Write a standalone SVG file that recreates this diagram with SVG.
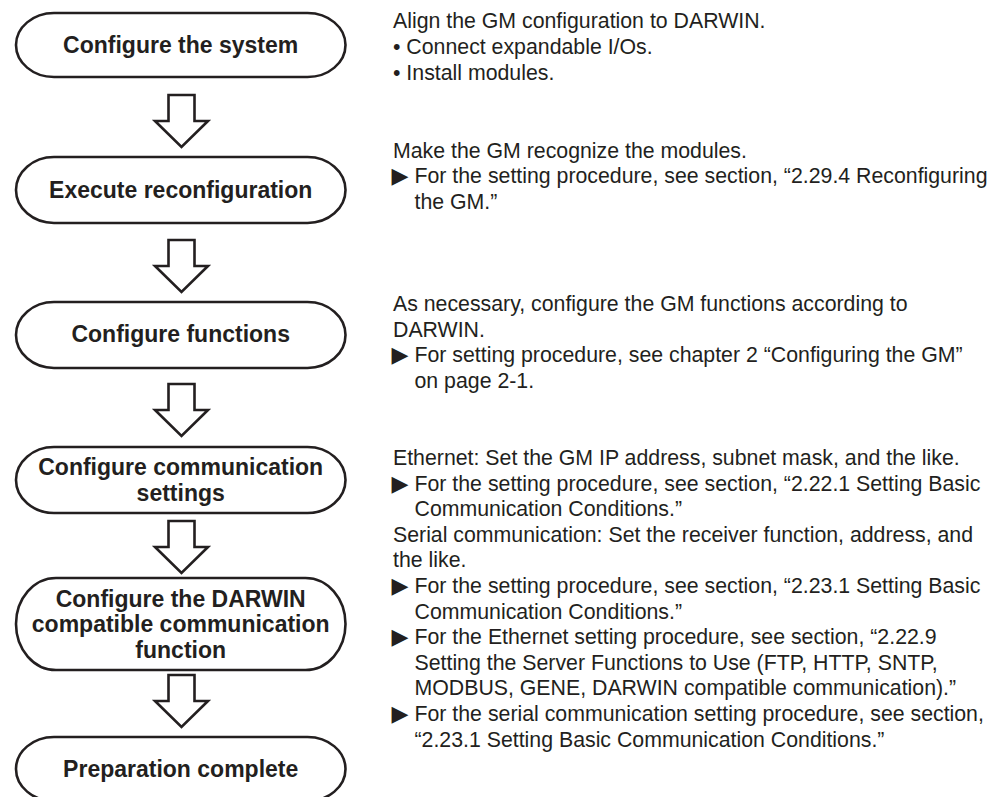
<svg xmlns="http://www.w3.org/2000/svg" width="1001" height="797" viewBox="0 0 1001 797">
<style>
.node{fill:#fff;stroke:#231f20;stroke-width:2.6}
.arrow{fill:#fff;stroke:#231f20;stroke-width:2.6;stroke-linejoin:miter}
.nt{font-family:"Liberation Sans",Arial,sans-serif;font-weight:bold;font-size:23px;fill:#231f20;text-anchor:middle}
.dt{font-family:"Liberation Sans",Arial,sans-serif;font-size:21.3px;fill:#231f20}
.tri{font-family:"DejaVu Sans",sans-serif;font-size:22px}
</style>
<defs>
<path id="blk" d="M-13,0 H13 V26 H26.5 L0,52 L-26.5,26 H-13 Z"/>
</defs>
<rect width="1001" height="797" fill="#fff"/>
<g id="connectors">
<use href="#blk" class="arrow" transform="translate(181.5,95)"/>
<use href="#blk" class="arrow" transform="translate(181.5,240)"/>
<use href="#blk" class="arrow" transform="translate(181.5,384)"/>
<use href="#blk" class="arrow" transform="translate(181.5,521)"/>
<use href="#blk" class="arrow" transform="translate(181.5,675)"/>
</g>
<g id="n1">
<rect class="node" x="16" y="13" width="329.5" height="64" rx="38" ry="32"/>
<text class="nt" x="180.7" y="53.3">Configure the system</text>
</g>
<g id="n2">
<rect class="node" x="16" y="157" width="329.5" height="66" rx="38" ry="33"/>
<text class="nt" x="180.7" y="198.3">Execute reconfiguration</text>
</g>
<g id="n3">
<rect class="node" x="16" y="302" width="329.5" height="66" rx="38" ry="33"/>
<text class="nt" x="180.7" y="342.3">Configure functions</text>
</g>
<g id="n4">
<rect class="node" x="16" y="447" width="329.5" height="66" rx="38" ry="33"/>
<text class="nt" x="180.7" y="475.3">Configure communication</text>
<text class="nt" x="180.7" y="500.8">settings</text>
</g>
<g id="n5">
<rect class="node" x="16" y="578" width="329.5" height="92" rx="40" ry="46"/>
<text class="nt" x="180.7" y="606.8">Configure the DARWIN</text>
<text class="nt" x="180.7" y="632.3">compatible communication</text>
<text class="nt" x="180.7" y="657.8">function</text>
</g>
<g id="n6">
<rect class="node" x="16" y="737" width="329.5" height="64" rx="38" ry="32"/>
<text class="nt" x="180.7" y="777.3">Preparation complete</text>
</g>
<g id="notes" class="dt">
<text x="393" y="28.3">Align the GM configuration to DARWIN.</text>
<text x="393" y="54.3">• Connect expandable I/Os.</text>
<text x="393" y="80.3">• Install modules.</text>

<text x="393" y="157.5">Make the GM recognize the modules.</text>
<text y="183.2"><tspan class="tri" x="391.5">▶</tspan><tspan x="414.5">For the setting procedure, see section, “2.29.4 Reconfiguring</tspan></text>
<text x="414.5" y="209">the GM.”</text>

<text x="393" y="311">As necessary, configure the GM functions according to</text>
<text x="393" y="336.6">DARWIN.</text>
<text y="362.2"><tspan class="tri" x="391.5">▶</tspan><tspan x="414.5">For setting procedure, see chapter 2 “Configuring the GM”</tspan></text>
<text x="414.5" y="387.8">on page 2-1.</text>

<text x="393" y="465">Ethernet: Set the GM IP address, subnet mask, and the like.</text>
<text y="490.6"><tspan class="tri" x="391.5">▶</tspan><tspan x="414.5">For the setting procedure, see section, “2.22.1 Setting Basic</tspan></text>
<text x="414.5" y="516.2">Communication Conditions.”</text>
<text x="393" y="541.8">Serial communication: Set the receiver function, address, and</text>
<text x="393" y="567.4">the like.</text>
<text y="593"><tspan class="tri" x="391.5">▶</tspan><tspan x="414.5">For the setting procedure, see section, “2.23.1 Setting Basic</tspan></text>
<text x="414.5" y="618.6">Communication Conditions.”</text>
<text y="644.2"><tspan class="tri" x="391.5">▶</tspan><tspan x="414.5">For the Ethernet setting procedure, see section, “2.22.9</tspan></text>
<text x="414.5" y="669.8">Setting the Server Functions to Use (FTP, HTTP, SNTP,</text>
<text x="414.5" y="695.4">MODBUS, GENE, DARWIN compatible communication).”</text>
<text y="721"><tspan class="tri" x="391.5">▶</tspan><tspan x="414.5">For the serial communication setting procedure, see section,</tspan></text>
<text x="414.5" y="746.6">“2.23.1 Setting Basic Communication Conditions.”</text>
</g>
</svg>
